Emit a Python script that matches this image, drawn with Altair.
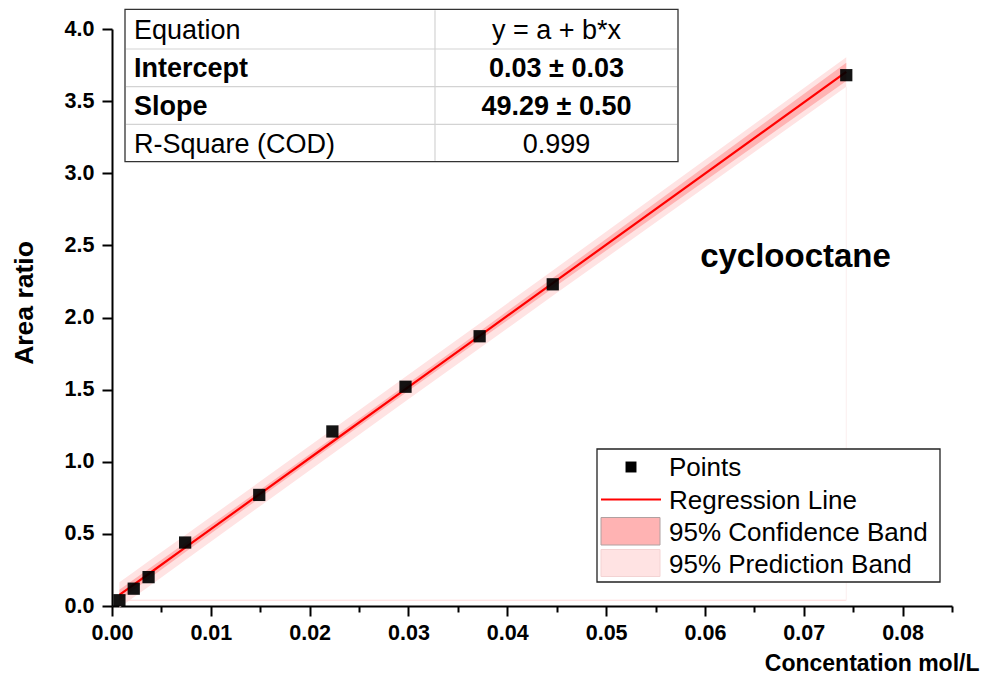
import altair as alt
import numpy as np
import pandas as pd

# ---------------- data ----------------
conc = [0.00075, 0.0022, 0.0037, 0.0074, 0.0149, 0.0223, 0.0297, 0.0372, 0.0446, 0.0743]
area = [0.04, 0.12, 0.20, 0.44, 0.77, 1.21, 1.52, 1.87, 2.23, 3.68]

table_labels = ["Equation", "Intercept", "Slope", "R-Square (COD)"]
table_values = ["y = a + b*x", "0.03 \u00b1 0.03", "49.29 \u00b1 0.50", "0.999"]
table_bold = [False, True, True, False]

legend_labels = ["Points", "Regression Line", "95% Confidence Band", "95% Prediction Band"]
compound = "cyclooctane"

x_tick_values = [0.0, 0.005, 0.01, 0.015, 0.02, 0.025, 0.03, 0.035, 0.04,
                 0.045, 0.05, 0.055, 0.06, 0.065, 0.07, 0.075, 0.08, 0.085]
y_tick_values = [0.0, 0.25, 0.5, 0.75, 1.0, 1.25, 1.5, 1.75, 2.0, 2.25, 2.5,
                 2.75, 3.0, 3.25, 3.5, 3.75, 4.0]
band_base = 0.04     # faint outline of the band fill seen along the bottom
T95 = 2.306          # Student t, 95 %, 8 degrees of freedom

# ---------------- linear fit with 95% bands ----------------
x = np.array(conc)
y = np.array(area)
n = len(x)
b, a = np.polyfit(x, y, 1)
yhat = a + b * x
s = np.sqrt(np.sum((y - yhat) ** 2) / (n - 2))
sxx = np.sum((x - x.mean()) ** 2)
conf = T95 * s * np.sqrt(1 / n + (x - x.mean()) ** 2 / sxx)
pred = T95 * s * np.sqrt(1 + 1 / n + (x - x.mean()) ** 2 / sxx)

pts = pd.DataFrame({"conc": conc, "area": area})
fit = pd.DataFrame({"conc": x, "fit": yhat,
                    "clo": yhat - conf, "chi": yhat + conf,
                    "plo": yhat - pred, "phi": yhat + pred})

FONT = "Liberation Sans"
W, H = 840, 577
RED = "#ff0000"
CONF_COL = "#ffb3b3"
PRED_COL = "#ffe3e3"

xscale = alt.Scale(domain=[0, 0.085], nice=False, zero=False)
yscale = alt.Scale(domain=[0, 4.0], nice=False, zero=False)

x_axis = alt.Axis(
    values=x_tick_values,
    labelExpr="round(datum.value*1000) % 10 == 0 ? format(datum.value, '.2f') : ''",
    tickSize={"condition": {"test": "round(datum.value*1000) % 10 == 0", "value": 10}, "value": 6},
    tickWidth=2, tickColor="black", domainWidth=2, domainColor="black",
    labelFont=FONT, labelFontSize=21.5, labelFontWeight="bold", labelColor="black",
    labelPadding=6, labelFlush=False, labelOverlap=False, grid=False,
    title="Concentation mol/L", titleFont=FONT, titleFontSize=23, titleFontWeight="bold",
    titleColor="black", titleAlign="right", titleBaseline="alphabetic", titleAngle=0,
    titleX=867, titleY=64,
)
y_axis = alt.Axis(
    values=y_tick_values,
    labelExpr="round(datum.value*100) % 50 == 0 ? format(datum.value, '.1f') : ''",
    tickSize={"condition": {"test": "round(datum.value*100) % 50 == 0", "value": 10}, "value": 6},
    tickWidth=2, tickColor="black", domainWidth=2, domainColor="black",
    labelFont=FONT, labelFontSize=21.5, labelFontWeight="bold", labelColor="black",
    labelPadding=8, labelFlush=False, labelOverlap=False, grid=False,
    title="Area ratio", titleFont=FONT, titleFontSize=26.5, titleFontWeight="bold",
    titleColor="black", titleAlign="center", titleBaseline="alphabetic", titleAngle=270,
    titleX=-80, titleY=273.5,
)

base_fit = alt.Chart(fit)

pred_band = base_fit.mark_area(color=PRED_COL, opacity=1).encode(
    x=alt.X("conc:Q", scale=xscale, axis=x_axis),
    y=alt.Y("plo:Q", scale=yscale, axis=y_axis),
    y2="phi:Q",
)
conf_band = base_fit.mark_area(color=CONF_COL, opacity=1).encode(
    x="conc:Q", y="clo:Q", y2="chi:Q")

edge_df = pd.DataFrame({"x0": [conc[0]], "x1": [conc[-1]], "yb": [band_base],
                        "ye": [float(yhat[-1] - pred[-1])]})
edge_h = alt.Chart(edge_df).mark_rule(color="#ffd9d9", strokeWidth=1).encode(
    x="x0:Q", x2="x1:Q", y="yb:Q")
edge_v = alt.Chart(edge_df).mark_rule(color="#fbeeee", strokeWidth=1).encode(
    x="x1:Q", y="yb:Q", y2="ye:Q")

reg_line = base_fit.mark_line(color=RED, strokeWidth=2.2).encode(x="conc:Q", y="fit:Q")

points = alt.Chart(pts).mark_point(shape="square", filled=True, size=150,
                                   color="black", opacity=0.92).encode(
    x="conc:Q", y="area:Q")

ONE = alt.InlineData(values=[{"k": 0}])


def txt(s, px, py, size, bold=False, align="left"):
    return alt.Chart(ONE).mark_text(
        text=s, font=FONT, fontSize=size, fontWeight="bold" if bold else "normal",
        align=align, baseline="alphabetic", color="black",
    ).encode(x=alt.value(px), y=alt.value(py))


def rect(x0, x1, y0, y1, fill, stroke, sw=1.0):
    return alt.Chart(ONE).mark_rect(fill=fill, stroke=stroke, strokeWidth=sw).encode(
        x=alt.value(x0), x2=alt.value(x1), y=alt.value(y0), y2=alt.value(y1))


def rule(x0, x1, y0, y1, color, sw=1.0):
    return alt.Chart(ONE).mark_rule(color=color, strokeWidth=sw).encode(
        x=alt.value(x0), x2=alt.value(x1), y=alt.value(y0), y2=alt.value(y1))


# ---------------- statistics table (pixel layout, relative to plot origin) ----------------
TX0, TX1, TXM = 13, 566, 323
row_edges = [-19.7, 20, 57.7, 95.3, 132.7]
row_base = [10, 48.4, 86, 123.5]
table_layers = [rect(TX0, TX1, row_edges[0], row_edges[-1], "white", "#333333", 1.3)]
for e in row_edges[1:-1]:
    table_layers.append(rule(TX0 + 1, TX1 - 1, e, e, "#d3d3d3", 1.2))
table_layers.append(rule(TXM, TXM, row_edges[0] + 1, row_edges[-1] - 1, "#d3d3d3", 1.2))
for lab, val, bold, yb in zip(table_labels, table_values, table_bold, row_base):
    table_layers.append(txt(lab, 22, yb, 27, bold, "left"))
    table_layers.append(txt(val, (TXM + TX1) / 2, yb, 27, bold, "center"))

# ---------------- legend ----------------
leg_layers = [rect(485, 828, 420, 553, "white", "#222222", 1.3)]
leg_base = [447, 479.5, 512, 543.5]
leg_layers.append(
    alt.Chart(ONE).mark_point(shape="square", filled=True, size=120, color="black", opacity=1)
    .encode(x=alt.value(519), y=alt.value(438)))
leg_layers.append(rule(489, 549, 470.5, 470.5, RED, 2))
leg_layers.append(rect(489, 548, 488.5, 516, CONF_COL, "#b0a0a0", 1))
leg_layers.append(rect(489, 548, 520.5, 547.5, PRED_COL, "#f3d3d3", 1))
for lab, yb in zip(legend_labels, leg_base):
    leg_layers.append(txt(lab, 557, yb, 26))

label = txt(compound, 683.5, 238, 33, True, "center")

chart = alt.layer(
    pred_band, conf_band, edge_h, edge_v, reg_line, points,
    *table_layers, *leg_layers, label,
).properties(
    width=W, height=H,
    background="white",
    autosize=alt.AutoSizeParams(type="none"),
    padding={"left": 112, "top": 29, "right": 32, "bottom": 69},
).configure_view(stroke=None)

chart.save("out.html", embed_options={"renderer": "svg", "actions": False})
